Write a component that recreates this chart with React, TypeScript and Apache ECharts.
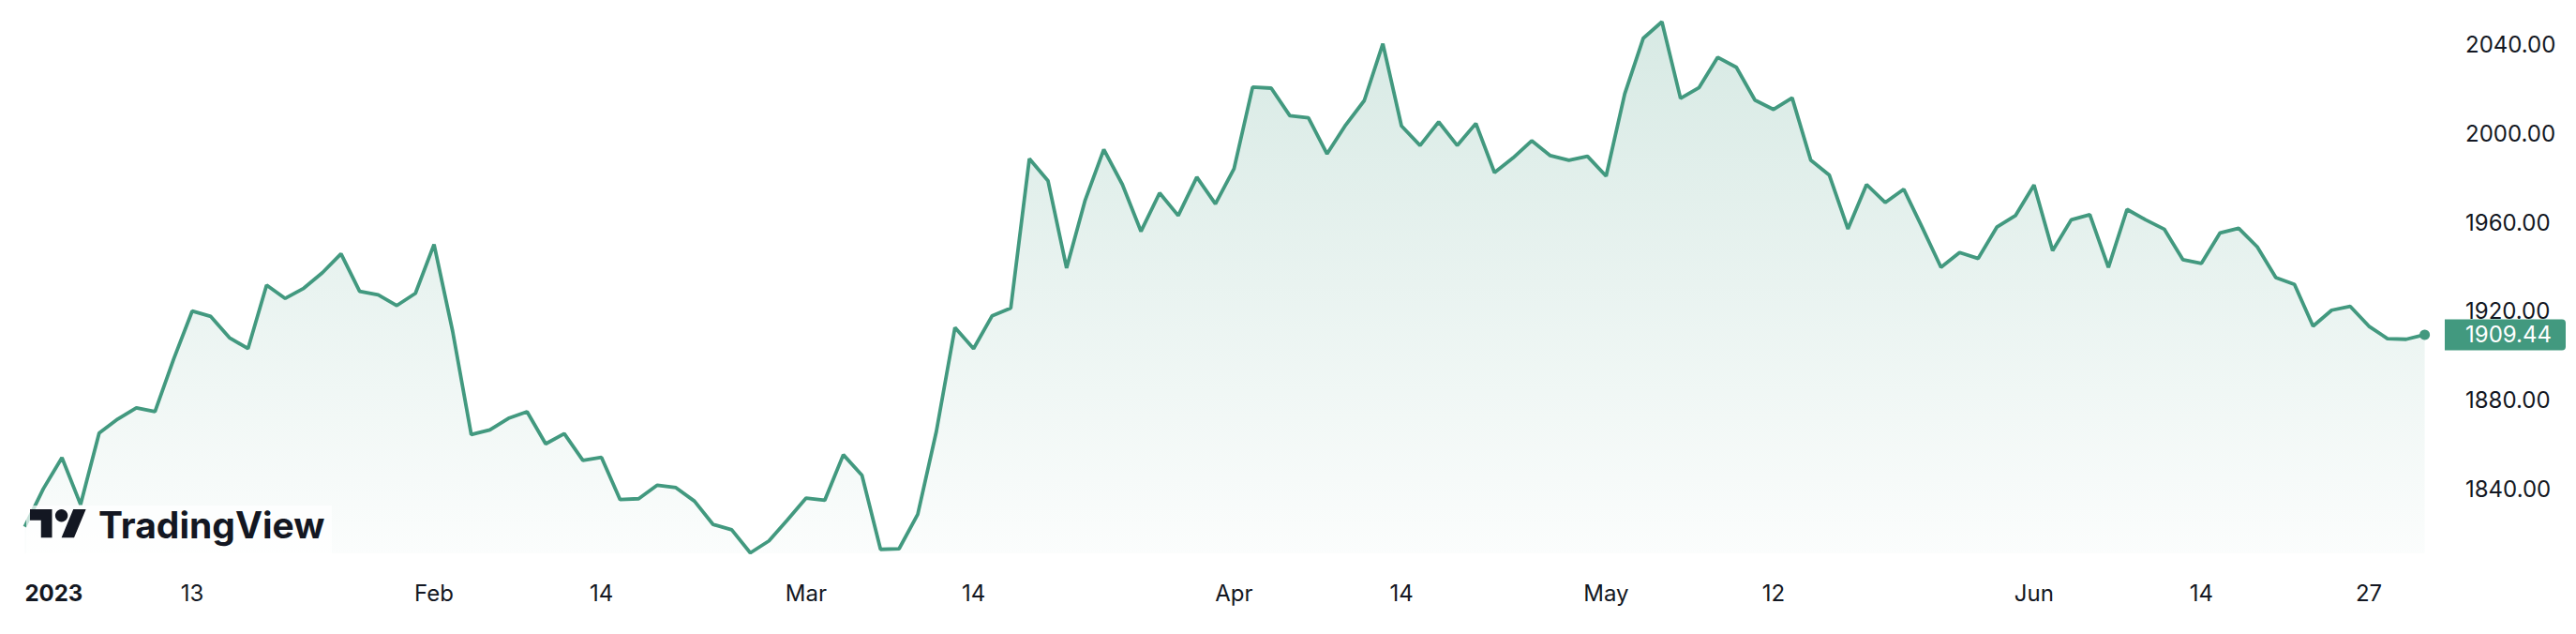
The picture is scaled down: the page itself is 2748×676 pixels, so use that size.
import React, { useEffect, useRef } from "react";
import * as echarts from "echarts";

// ---- data ----
const startDate = "2023-01-02";
const endDate = "2023-06-30";

function tradingDays(a: string, b: string): string[] {
  const out: string[] = [];
  const d = new Date(a + "T00:00:00Z");
  const end = new Date(b + "T00:00:00Z");
  while (d <= end) {
    const wd = d.getUTCDay();
    if (wd !== 0 && wd !== 6) out.push(d.toISOString().slice(0, 10));
    d.setUTCDate(d.getUTCDate() + 1);
  }
  return out;
}

const dates = tradingDays(startDate, endDate);

const prices = [
  1823.0, 1840.1, 1854.1, 1833.0, 1865.2, 1871.5, 1876.5, 1874.8, 1898.4, 1920.1,
  1917.7, 1908.1, 1903.2, 1931.8, 1925.8, 1930.4, 1937.4, 1945.9, 1929.0, 1927.4,
  1922.6, 1928.1, 1950.1, 1911.0, 1864.5, 1866.6, 1871.8, 1874.8, 1860.3, 1864.9,
  1852.9, 1854.2, 1835.2, 1835.6, 1841.7, 1840.6, 1834.5, 1824.0, 1821.6, 1811.2,
  1816.6, 1826.1, 1835.9, 1834.9, 1855.4, 1846.2, 1812.8, 1813.1, 1828.6, 1865.9,
  1912.7, 1903.2, 1918.0, 1921.5, 1988.7, 1978.8, 1939.5, 1970.1, 1992.9, 1977.1,
  1956.0, 1973.3, 1963.1, 1980.4, 1968.4, 1984.2, 2021.0, 2020.5, 2008.1, 2007.1,
  1990.9, 2003.9, 2014.9, 2040.5, 2003.5, 1994.7, 2005.3, 1994.7, 2004.6, 1982.5,
  1989.1, 1996.8, 1990.1, 1988.0, 1989.8, 1980.9, 2017.9, 2043.0, 2050.4, 2015.9,
  2020.8, 2034.4, 2029.9, 2015.1, 2010.9, 2016.1, 1988.1, 1981.3, 1957.1, 1977.1,
  1969.0, 1975.0, 1957.6, 1939.8, 1946.5, 1943.8, 1957.9, 1963.1, 1976.9, 1947.3,
  1961.2, 1963.5, 1939.8, 1965.9, 1961.2, 1957.0, 1943.3, 1941.6, 1955.3, 1957.4,
  1949.0, 1935.2, 1932.1, 1913.3, 1920.5, 1922.2, 1913.3, 1907.7, 1907.4, 1909.44,
];

const xTickDates = [
  "2023-01-02", "2023-01-13", "2023-02-01", "2023-02-14", "2023-03-01", "2023-03-14",
  "2023-04-03", "2023-04-14", "2023-05-01", "2023-05-12", "2023-06-01", "2023-06-14",
  "2023-06-27",
];
const xTickLabels = ["2023", "13", "Feb", "14", "Mar", "14", "Apr", "14", "May", "12", "Jun", "14", "27"];
const yTicks = [1840, 1880, 1920, 1960, 2000, 2040];
const yMin = 1811;
const yMax = 2060.2;

// ---- style ----
const LINE = "#42997f";
const TEXT = "#131722";
const FONT = "Inter, Roboto, sans-serif";
const LOGO_PATH = "M14 22H7V11H0V4h14v18zM28 22h-8l7.5-18h8L28 22z";

let registered = false;

export default function App() {
  const ref = useRef<HTMLDivElement>(null);

  useEffect(() => {
    if (!ref.current) return;
    if (!registered) {
      echarts.graphic.registerShape("tvlogo", echarts.graphic.extendPath(LOGO_PATH, {}) as any);
      registered = true;
    }
    const chart = echarts.init(ref.current, undefined, { renderer: "svg" });
    const tickMap = new Map<string, string>();
    xTickDates.forEach((d, i) => tickMap.set(d, xTickLabels[i]));
    const last = prices.length - 1;

    const gridLeft = 26.4;
    const gridRight = 161.4;
    const gridBottom = 86;
    const yLabelMargin = 43.4;

    chart.setOption({
      animation: false,
      backgroundColor: "#ffffff",
      grid: { left: gridLeft, right: gridRight, top: 0, bottom: gridBottom, containLabel: false },
      xAxis: {
        type: "category",
        data: dates,
        boundaryGap: false,
        axisLine: { show: false },
        axisTick: { show: false },
        splitLine: { show: false },
        axisLabel: {
          interval: (idx: number, val: string) => tickMap.has(val),
          formatter: (val: string) => {
            const t = tickMap.get(val) || "";
            return t === "2023" ? "{b|" + t + "}" : t;
          },
          alignMinLabel: "left",
          margin: 30,
          color: TEXT,
          fontFamily: FONT,
          fontSize: 24,
          rich: { b: { fontWeight: "bold", fontFamily: FONT, fontSize: 24, color: TEXT } },
        },
      },
      yAxis: {
        type: "value",
        position: "right",
        min: yMin,
        max: yMax,
        splitLine: { show: false },
        axisLine: { show: false },
        axisTick: { show: false },
        axisLabel: {
          customValues: yTicks,
          formatter: (v: number) => v.toFixed(2),
          margin: yLabelMargin,
          color: TEXT,
          fontFamily: FONT,
          fontSize: 24,
        },
      },
      series: [
        {
          type: "line",
          data: prices,
          showSymbol: false,
          clip: false,
          lineStyle: { color: LINE, width: 3.8 },
          areaStyle: {
            color: new echarts.graphic.LinearGradient(0, 0, 0, 1, [
              { offset: 0, color: "rgba(66,153,127,0.3)" },
              { offset: 1, color: "rgba(66,153,127,0.03)" },
            ]),
          },
          markPoint: {
            symbol: "circle",
            symbolSize: 11,
            silent: true,
            label: { show: false },
            itemStyle: { color: LINE },
            data: [{ coord: [dates[last], prices[last]] }],
          },
        },
      ],
    });

    const pt = chart.convertToPixel({ seriesIndex: 0 }, [last, prices[last]]) as number[];
    const px = pt[0];
    const py = pt[1];
    const s = 1.68;
    const lx = 32;
    const ly = 536.3;

    chart.setOption({
      graphic: [
        { type: "rect", z: 90, shape: { x: 28, y: 539, width: 326, height: 51 }, style: { fill: "#ffffff", opacity: 0.7 } },
        { type: "tvlogo", z: 91, x: lx, y: ly, scaleX: s, scaleY: s, style: { fill: TEXT } } as any,
        { type: "circle", z: 91, shape: { cx: lx + 20 * s, cy: ly + 8 * s, r: 4 * s }, style: { fill: TEXT } },
        {
          type: "text",
          z: 91,
          x: 105,
          y: 559,
          style: { text: "TradingView", fill: TEXT, font: "700 39px " + FONT, verticalAlign: "middle", align: "left" },
        },
        {
          type: "rect",
          z: 100,
          shape: { x: px + 21.4, y: py - 16.5, width: 129, height: 33, r: [0, 4, 4, 0] },
          style: { fill: LINE },
        },
        {
          type: "text",
          z: 101,
          x: px + yLabelMargin,
          y: py,
          style: { text: prices[last].toFixed(2), fill: "#ffffff", font: "24px " + FONT, verticalAlign: "middle", align: "left" },
        },
      ],
    });

    return () => chart.dispose();
  }, []);

  return (
    <div
      ref={ref}
      style={{ position: "fixed", left: 0, top: 0, width: 2748, height: 676 }}
    />
  );
}
